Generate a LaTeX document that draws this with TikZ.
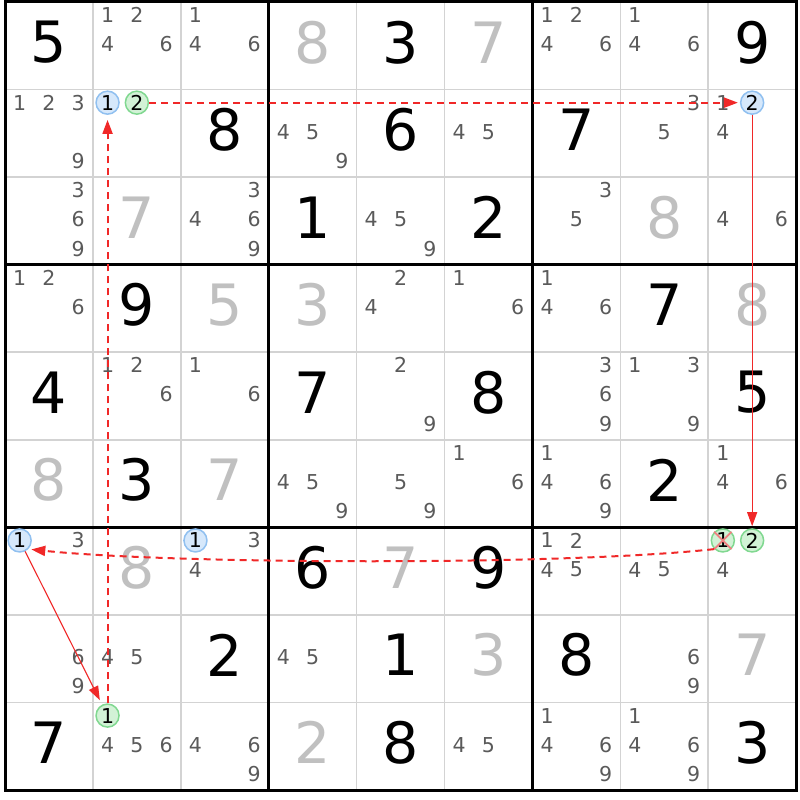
\documentclass[tikz,border=0pt]{standalone}
\usepackage{fontspec}
\setmainfont{DejaVu Sans}
\usetikzlibrary{arrows.meta}
\definecolor{solvedgray}{HTML}{C0C0C0}
\definecolor{candgray}{HTML}{5A5A5A}
\definecolor{gridgray}{HTML}{D3D3D3}
\definecolor{bluefill}{HTML}{D6E8FB}
\definecolor{blueline}{HTML}{90C0F0}
\definecolor{greenfill}{HTML}{D2F2D6}
\definecolor{greenline}{HTML}{80D890}
\definecolor{linkred}{HTML}{F02828}
\definecolor{crossred}{HTML}{F08080}
\newcommand\bigd[4]{\node[#4] (d-#1-#2) at ({5+(#2-0.5)*87.9},{2+(#1-0.5)*87.56-3.5}) {#3};}
\newcommand\cands[3]{\foreach \d in {#3}{\node[cand] (c-#1-#2-\d) at ({5+(#2-1)*87.9+(mod(\d-1,3)+0.5)*29.3},{2+(#1-1)*87.56+(floor((\d-1)/3)+0.5)*29.19-1.5}) {\d};}}
\newcommand\circd[4]{\node[#4] (c-#1-#2-#3) at ({5+(#2-1)*87.9+(mod(#3-1,3)+0.5)*29.3},{2+(#1-1)*87.56+(floor((#3-1)/3)+0.5)*29.19-1.5}) {#3};}
\begin{document}
\begin{tikzpicture}[x=1pt,y=-1pt,
  given/.style={inner sep=0pt,font=\fontsize{57}{57}\selectfont,text=black},
  solved/.style={inner sep=0pt,font=\fontsize{57}{57}\selectfont,text=solvedgray},
  cand/.style={inner sep=0pt,font=\fontsize{20.5}{20.5}\selectfont,text=candgray},
  circbase/.style={circle,inner sep=0pt,minimum size=23pt,line width=1.5pt,font=\fontsize{20.5}{20.5}\selectfont,text=black},
  bluec/.style={circbase,draw=blueline,fill=bluefill},
  greenc/.style={circbase,draw=greenline,fill=greenfill},
  thinline/.style={draw=gridgray,line width=1.5pt},
  thickline/.style={draw=black,line width=3pt},
  dasharrow/.style={draw=linkred,line width=2pt,dash pattern=on 7pt off 5pt,-{Triangle[length=14pt,width=10pt]},shorten >=2pt},
  solidarrow/.style={draw=linkred,line width=1.1pt,-{Triangle[length=14pt,width=10pt]},shorten >=2pt},
  crossline/.style={draw=crossred,line width=1.8pt}]
\useasboundingbox (0,0) rectangle (800,800);
\fill[white] (0,0) rectangle (800,800);
% grid
\foreach \i in {1,2,4,5,7,8} {
  \draw[thinline] ({5+\i*87.9},2) -- ({5+\i*87.9},790);
  \draw[thinline] (5,{2+\i*87.56}) -- (796,{2+\i*87.56});
}
\foreach \i in {3,6} {
  \draw[thickline] ({5+\i*87.9},2) -- ({5+\i*87.9},790);
  \draw[thickline] (5,{2+\i*87.56}) -- (796,{2+\i*87.56});
}
\draw[thickline] (5,2) rectangle (796,790);
% row 1
\bigd{1}{1}{5}{given} \cands{1}{2}{1,2,4,6} \cands{1}{3}{1,4,6} \bigd{1}{4}{8}{solved}
\bigd{1}{5}{3}{given} \bigd{1}{6}{7}{solved} \cands{1}{7}{1,2,4,6} \cands{1}{8}{1,4,6} \bigd{1}{9}{9}{given}
% row 2
\cands{2}{1}{1,2,3,9} \circd{2}{2}{1}{bluec} \circd{2}{2}{2}{greenc} \bigd{2}{3}{8}{given}
\cands{2}{4}{4,5,9} \bigd{2}{5}{6}{given} \cands{2}{6}{4,5} \bigd{2}{7}{7}{given}
\cands{2}{8}{3,5} \cands{2}{9}{1,4} \circd{2}{9}{2}{bluec}
% row 3
\cands{3}{1}{3,6,9} \bigd{3}{2}{7}{solved} \cands{3}{3}{3,4,6,9} \bigd{3}{4}{1}{given}
\cands{3}{5}{4,5,9} \bigd{3}{6}{2}{given} \cands{3}{7}{3,5} \bigd{3}{8}{8}{solved} \cands{3}{9}{4,6}
% row 4
\cands{4}{1}{1,2,6} \bigd{4}{2}{9}{given} \bigd{4}{3}{5}{solved} \bigd{4}{4}{3}{solved}
\cands{4}{5}{2,4} \cands{4}{6}{1,6} \cands{4}{7}{1,4,6} \bigd{4}{8}{7}{given} \bigd{4}{9}{8}{solved}
% row 5
\bigd{5}{1}{4}{given} \cands{5}{2}{1,2,6} \cands{5}{3}{1,6} \bigd{5}{4}{7}{given}
\cands{5}{5}{2,9} \bigd{5}{6}{8}{given} \cands{5}{7}{3,6,9} \cands{5}{8}{1,3,9} \bigd{5}{9}{5}{given}
% row 6
\bigd{6}{1}{8}{solved} \bigd{6}{2}{3}{given} \bigd{6}{3}{7}{solved} \cands{6}{4}{4,5,9}
\cands{6}{5}{5,9} \cands{6}{6}{1,6} \cands{6}{7}{1,4,6,9} \bigd{6}{8}{2}{given} \cands{6}{9}{1,4,6}
% row 7
\circd{7}{1}{1}{bluec} \cands{7}{1}{3} \bigd{7}{2}{8}{solved} \circd{7}{3}{1}{bluec} \cands{7}{3}{3,4}
\bigd{7}{4}{6}{given} \bigd{7}{5}{7}{solved} \bigd{7}{6}{9}{given} \cands{7}{7}{1,2,4,5}
\cands{7}{8}{4,5} \circd{7}{9}{1}{greenc} \circd{7}{9}{2}{greenc} \cands{7}{9}{4}
% row 8
\cands{8}{1}{6,9} \cands{8}{2}{4,5} \bigd{8}{3}{2}{given} \cands{8}{4}{4,5} \bigd{8}{5}{1}{given}
\bigd{8}{6}{3}{solved} \bigd{8}{7}{8}{given} \cands{8}{8}{6,9} \bigd{8}{9}{7}{solved}
% row 9
\bigd{9}{1}{7}{given} \circd{9}{2}{1}{greenc} \cands{9}{2}{4,5,6} \cands{9}{3}{4,6,9}
\bigd{9}{4}{2}{solved} \bigd{9}{5}{8}{given} \cands{9}{6}{4,5} \cands{9}{7}{1,4,6,9}
\cands{9}{8}{1,4,6,9} \bigd{9}{9}{3}{given}
% elimination cross
\draw[crossline] (c-7-9-1.north west) -- (c-7-9-1.south east);
\draw[crossline] (c-7-9-1.north east) -- (c-7-9-1.south west);
% chain
\draw[dasharrow] (c-2-2-2) -- (c-2-9-2);
\draw[solidarrow] (c-2-9-2) -- (c-7-9-2);
\draw[dasharrow,shorten >=3pt] (c-7-9-1.south west) .. controls (560,566) and (170,564) .. (c-7-1-1.south east);
\draw[solidarrow,shorten >=5pt] (c-7-1-1) -- (c-9-2-1);
\draw[dasharrow,shorten >=5pt] (c-9-2-1) -- (c-2-2-1);
\end{tikzpicture}
\end{document}
